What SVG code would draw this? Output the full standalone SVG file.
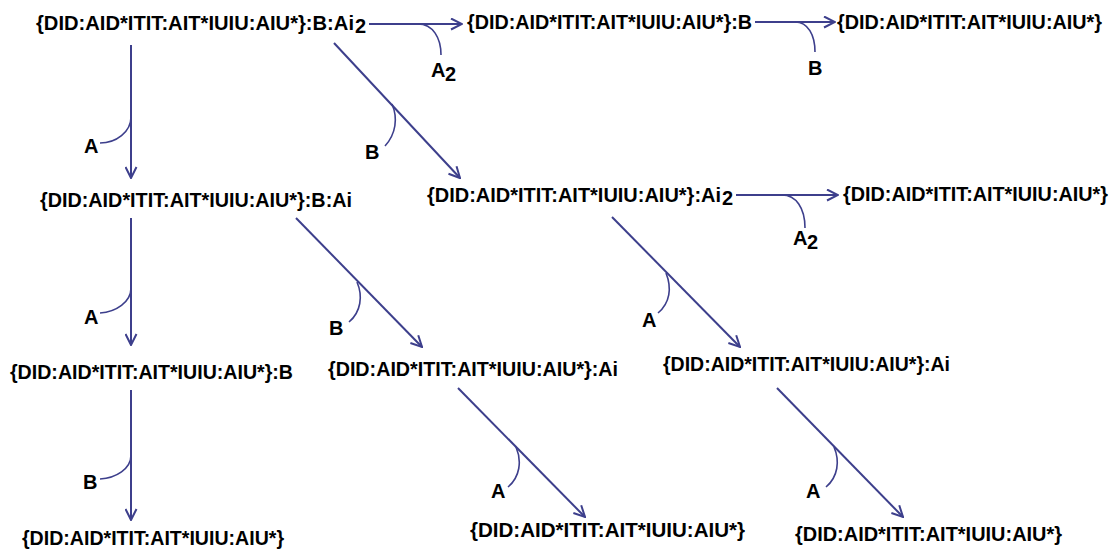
<svg xmlns="http://www.w3.org/2000/svg" width="1119" height="553" viewBox="0 0 1119 553">
  <style>
    .node { font-family: "Liberation Sans", Arial, sans-serif; font-weight: bold; font-size: 20px; fill: #000; }
    .lbl { font-family: "Liberation Sans", Arial, sans-serif; font-weight: bold; font-size: 20px; fill: #000; }
    .edge { stroke: #3d3f8c; stroke-width: 2; fill: none; }
    .arc { stroke: #3d3f8c; stroke-width: 1.6; fill: none; }
  </style>
  <defs>
    <marker id="arrow" viewBox="0 0 13 13" refX="12" refY="6.5" markerWidth="13" markerHeight="13" markerUnits="userSpaceOnUse" orient="auto">
      <path d="M1,1 L12,6.5 L1,12" fill="none" stroke="#3d3f8c" stroke-width="2"/>
    </marker>
  </defs>
  <rect width="1119" height="553" fill="#fff"/>

  <!-- connectors with their labels -->
  <g id="connectors">
    <!-- row 1 -->
    <path class="edge" d="M369,24 L462,24" marker-end="url(#arrow)"/>
    <path class="arc" d="M418,24 C433,24 441,38 441,55"/>
    <text class="lbl" x="431" y="77">A</text>
    <text class="lbl" x="445" y="81">2</text>

    <path class="edge" d="M755,22 L835,22" marker-end="url(#arrow)"/>
    <path class="arc" d="M795,22 C808,22 815,35 815,52"/>
    <text class="lbl" x="808" y="75">B</text>

    <path class="edge" d="M131,45 L131,178" marker-end="url(#arrow)"/>
    <path class="arc" d="M131,117 C131,132 116,143 100,143"/>
    <text class="lbl" x="84" y="153">A</text>

    <path class="edge" d="M334,43 L460,178" marker-end="url(#arrow)"/>
    <path class="arc" d="M392,104 C398,118 396,134 385,146"/>
    <text class="lbl" x="365" y="159">B</text>

    <!-- row 2 -->
    <path class="edge" d="M131,218 L131,345" marker-end="url(#arrow)"/>
    <path class="arc" d="M131,288 C131,302 116,312 100,313"/>
    <text class="lbl" x="84" y="324">A</text>

    <path class="edge" d="M296,218 L422,347" marker-end="url(#arrow)"/>
    <path class="arc" d="M357,282 C363,296 361,312 349,322"/>
    <text class="lbl" x="329" y="335">B</text>

    <path class="edge" d="M736,195 L838,195" marker-end="url(#arrow)"/>
    <path class="arc" d="M782,195 C796,195 805,208 805,228"/>
    <text class="lbl" x="793" y="245">A</text>
    <text class="lbl" x="807" y="249">2</text>

    <path class="edge" d="M612,217 L740,347" marker-end="url(#arrow)"/>
    <path class="arc" d="M666,273 C672,288 670,303 658,313"/>
    <text class="lbl" x="642" y="327">A</text>

    <!-- row 3 -->
    <path class="edge" d="M131,390 L131,520" marker-end="url(#arrow)"/>
    <path class="arc" d="M131,455 C131,469 116,478 100,479"/>
    <text class="lbl" x="83" y="489">B</text>

    <path class="edge" d="M458,388 L585,517" marker-end="url(#arrow)"/>
    <path class="arc" d="M516,447 C522,461 520,477 508,487"/>
    <text class="lbl" x="491" y="498">A</text>

    <path class="edge" d="M777,388 L903,517" marker-end="url(#arrow)"/>
    <path class="arc" d="M834,447 C840,461 838,477 826,487"/>
    <text class="lbl" x="806" y="498">A</text>
  </g>

  <!-- nodes -->
  <g id="n1">
    <text class="node" x="36" y="30" textLength="318" lengthAdjust="spacingAndGlyphs">{DID:AID*ITIT:AIT*IUIU:AIU*}:B:Ai</text>
    <text class="node" x="355" y="33">2</text>
  </g>
  <g id="n2"><text class="node" x="467" y="29" textLength="285" lengthAdjust="spacingAndGlyphs">{DID:AID*ITIT:AIT*IUIU:AIU*}:B</text></g>
  <g id="n3"><text class="node" x="837" y="29" textLength="265" lengthAdjust="spacingAndGlyphs">{DID:AID*ITIT:AIT*IUIU:AIU*}</text></g>
  <g id="n4"><text class="node" x="40" y="207" textLength="312" lengthAdjust="spacingAndGlyphs">{DID:AID*ITIT:AIT*IUIU:AIU*}:B:Ai</text></g>
  <g id="n5">
    <text class="node" x="427" y="202" textLength="294" lengthAdjust="spacingAndGlyphs">{DID:AID*ITIT:AIT*IUIU:AIU*}:Ai</text>
    <text class="node" x="722" y="205">2</text>
  </g>
  <g id="n6"><text class="node" x="843" y="201" textLength="265" lengthAdjust="spacingAndGlyphs">{DID:AID*ITIT:AIT*IUIU:AIU*}</text></g>
  <g id="n7"><text class="node" x="10" y="379" textLength="283" lengthAdjust="spacingAndGlyphs">{DID:AID*ITIT:AIT*IUIU:AIU*}:B</text></g>
  <g id="n8"><text class="node" x="328" y="376" textLength="290" lengthAdjust="spacingAndGlyphs">{DID:AID*ITIT:AIT*IUIU:AIU*}:Ai</text></g>
  <g id="n9"><text class="node" x="663" y="371" textLength="287" lengthAdjust="spacingAndGlyphs">{DID:AID*ITIT:AIT*IUIU:AIU*}:Ai</text></g>
  <g id="n10"><text class="node" x="22" y="545" textLength="262" lengthAdjust="spacingAndGlyphs">{DID:AID*ITIT:AIT*IUIU:AIU*}</text></g>
  <g id="n11"><text class="node" x="470" y="537" textLength="275" lengthAdjust="spacingAndGlyphs">{DID:AID*ITIT:AIT*IUIU:AIU*}</text></g>
  <g id="n12"><text class="node" x="795" y="541" textLength="267" lengthAdjust="spacingAndGlyphs">{DID:AID*ITIT:AIT*IUIU:AIU*}</text></g>
</svg>
